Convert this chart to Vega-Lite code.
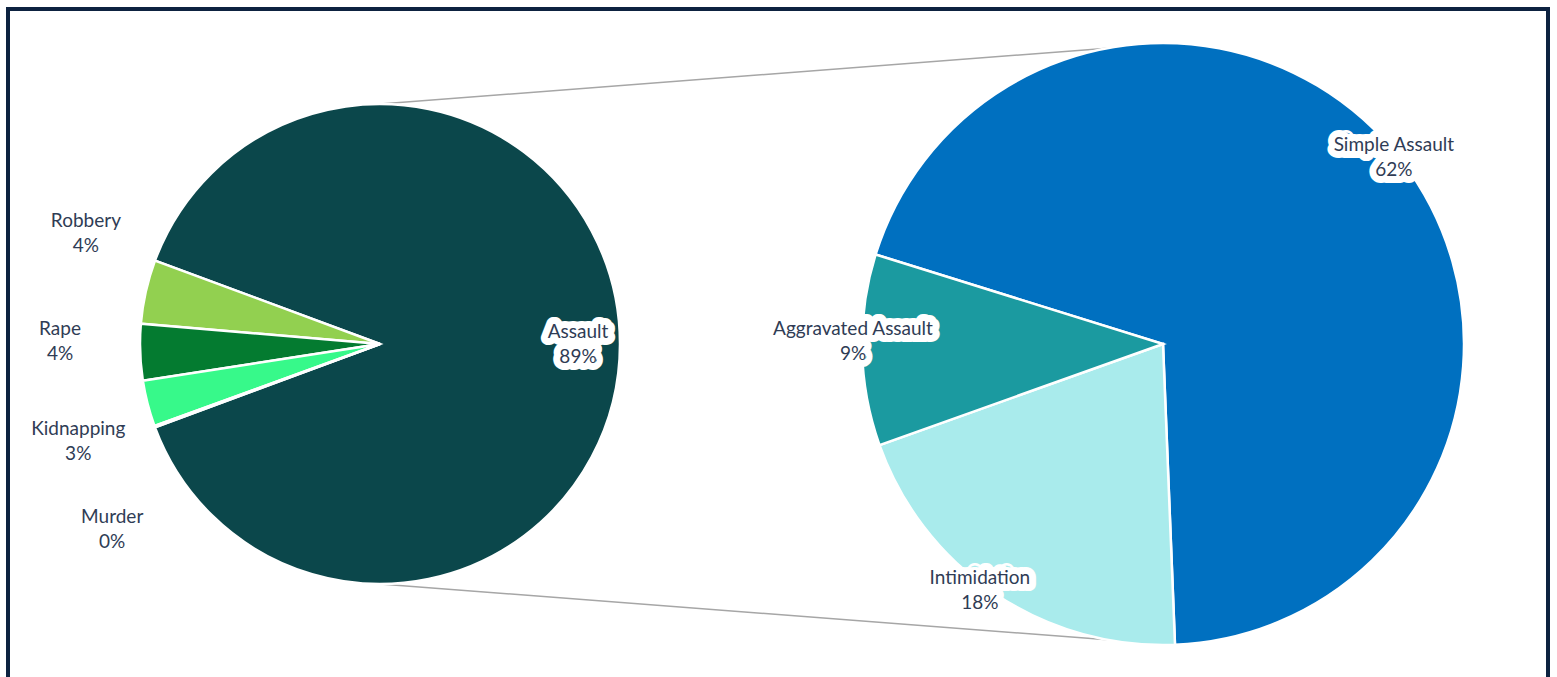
{
  "$schema": "https://vega.github.io/schema/vega-lite/v6.json",
  "width": 1557,
  "height": 677,
  "autosize": {"type": "fit", "contains": "padding"},
  "padding": {"left": 8, "top": 9, "right": 9, "bottom": -2},
  "background": "white",
  "config": {
    "view": {"stroke": "#0D2240", "strokeWidth": 4},
    "text": {"font": "Lato", "fontSize": 19, "fill": "#2F3C55", "align": "center", "baseline": "middle"}
  },
  "resolve": {"scale": {"theta": "independent", "y": "independent"}},
  "layer": [
    {
      "data": {"values": [
        {"pie": "main", "edge": "top"},
        {"pie": "detail", "edge": "top"},
        {"pie": "main", "edge": "bottom"},
        {"pie": "detail", "edge": "bottom"}
      ]},
      "resolve": {"scale": {"y": "independent"}},
      "layer": [
        {
          "transform": [{"filter": "datum.edge === 'top'"}],
          "mark": {"type": "line", "stroke": "#A6A6A6", "strokeWidth": 1.5},
          "encoding": {
            "x": {"field": "pie", "type": "nominal", "scale": {"domain": ["main", "detail"], "range": [372, 1155], "padding": 0}, "axis": null},
            "y": {"field": "pie", "type": "nominal", "scale": {"domain": ["main", "detail"], "range": [95, 35], "padding": 0}, "axis": null}
          }
        },
        {
          "transform": [{"filter": "datum.edge === 'bottom'"}],
          "mark": {"type": "line", "stroke": "#A6A6A6", "strokeWidth": 1.5},
          "encoding": {
            "x": {"field": "pie", "type": "nominal", "scale": {"domain": ["main", "detail"], "range": [372, 1155], "padding": 0}, "axis": null},
            "y": {"field": "pie", "type": "nominal", "scale": {"domain": ["main", "detail"], "range": [575, 635], "padding": 0}, "axis": null}
          }
        }
      ]
    },
    {
      "data": {"values": [
        {"pie": "main", "crime": "Assault", "share": 0.887},
        {"pie": "main", "crime": "Robbery", "share": 0.043},
        {"pie": "main", "crime": "Rape", "share": 0.038},
        {"pie": "main", "crime": "Kidnapping", "share": 0.031},
        {"pie": "main", "crime": "Murder", "share": 0.001}
      ]},
      "encoding": {
        "x": {"field": "pie", "type": "nominal", "scale": {"domain": ["main", "detail"], "range": [372, 1155], "padding": 0}, "axis": null},
        "theta": {"field": "share", "type": "quantitative", "stack": true, "scale": {"range": [4.3574, 10.6406]}},
        "order": {"field": "share", "type": "quantitative", "sort": "ascending"},
        "detail": {"field": "crime", "type": "nominal"}
      },
      "layer": [
        {
          "mark": {"type": "arc", "outerRadius": 240, "stroke": "white", "strokeWidth": 2.5},
          "encoding": {
            "color": {"field": "crime", "type": "nominal", "legend": null,
              "scale": {
                "domain": ["Assault", "Robbery", "Rape", "Kidnapping", "Murder", "Simple Assault", "Aggravated Assault", "Intimidation"],
                "range": ["#0B474B", "#92D050", "#047B30", "#37F98A", "#0B474B", "#0070C0", "#1B9AA0", "#A9EBEC"]
              }
            }
          }
        },
        {
          "mark": {"type": "text", "radius": 314, "thetaOffset": 0.138, "dy": -12.5},
          "encoding": {"text": {"condition": {"test": "datum.crime === 'Robbery'", "field": "crime", "type": "nominal"}, "value": ""}}
        },
        {
          "mark": {"type": "text", "radius": 314, "thetaOffset": 0.138, "dy": 12.5},
          "encoding": {"text": {"condition": {"test": "datum.crime === 'Robbery'", "field": "share", "type": "quantitative", "format": ".0%"}, "value": ""}}
        },
        {
          "mark": {"type": "text", "radius": 320, "thetaOffset": 0.042, "dy": -12.5},
          "encoding": {"text": {"condition": {"test": "datum.crime === 'Rape'", "field": "crime", "type": "nominal"}, "value": ""}}
        },
        {
          "mark": {"type": "text", "radius": 320, "thetaOffset": 0.042, "dy": 12.5},
          "encoding": {"text": {"condition": {"test": "datum.crime === 'Rape'", "field": "share", "type": "quantitative", "format": ".0%"}, "value": ""}}
        },
        {
          "mark": {"type": "text", "radius": 317, "thetaOffset": -0.06, "dy": -12.5},
          "encoding": {"text": {"condition": {"test": "datum.crime === 'Kidnapping'", "field": "crime", "type": "nominal"}, "value": ""}}
        },
        {
          "mark": {"type": "text", "radius": 317, "thetaOffset": -0.06, "dy": 12.5},
          "encoding": {"text": {"condition": {"test": "datum.crime === 'Kidnapping'", "field": "share", "type": "quantitative", "format": ".0%"}, "value": ""}}
        },
        {
          "mark": {"type": "text", "radius": 326, "thetaOffset": -0.255, "dy": -12.5},
          "encoding": {"text": {"condition": {"test": "datum.crime === 'Murder'", "field": "crime", "type": "nominal"}, "value": ""}}
        },
        {
          "mark": {"type": "text", "radius": 326, "thetaOffset": -0.255, "dy": 12.5},
          "encoding": {"text": {"condition": {"test": "datum.crime === 'Murder'", "field": "share", "type": "quantitative", "format": ".0%"}, "value": ""}}
        },
        {
          "mark": {"type": "text", "radius": 198, "dy": -12.5, "fill": "white", "stroke": "white", "strokeWidth": 14, "strokeJoin": "round"},
          "encoding": {"text": {"condition": {"test": "datum.crime === 'Assault'", "field": "crime", "type": "nominal"}, "value": ""}}
        },
        {
          "mark": {"type": "text", "radius": 198, "dy": 12.5, "fill": "white", "stroke": "white", "strokeWidth": 14, "strokeJoin": "round"},
          "encoding": {"text": {"condition": {"test": "datum.crime === 'Assault'", "field": "share", "type": "quantitative", "format": ".0%"}, "value": ""}}
        },
        {
          "mark": {"type": "text", "radius": 198, "dy": -12.5},
          "encoding": {"text": {"condition": {"test": "datum.crime === 'Assault'", "field": "crime", "type": "nominal"}, "value": ""}}
        },
        {
          "mark": {"type": "text", "radius": 198, "dy": 12.5},
          "encoding": {"text": {"condition": {"test": "datum.crime === 'Assault'", "field": "share", "type": "quantitative", "format": ".0%"}, "value": ""}}
        }
      ]
    },
    {
      "data": {"values": [
        {"pie": "detail", "crime": "Simple Assault", "share": 0.617},
        {"pie": "detail", "crime": "Intimidation", "share": 0.179},
        {"pie": "detail", "crime": "Aggravated Assault", "share": 0.091}
      ]},
      "encoding": {
        "x": {"field": "pie", "type": "nominal", "scale": {"domain": ["main", "detail"], "range": [372, 1155], "padding": 0}, "axis": null},
        "theta": {"field": "share", "type": "quantitative", "stack": true, "scale": {"range": [5.0143, 11.2975]}},
        "order": {"field": "share", "type": "quantitative", "sort": "descending"},
        "detail": {"field": "crime", "type": "nominal"}
      },
      "layer": [
        {
          "mark": {"type": "arc", "outerRadius": 301, "stroke": "white", "strokeWidth": 2.5},
          "encoding": {
            "color": {"field": "crime", "type": "nominal", "legend": null,
              "scale": {
                "domain": ["Assault", "Robbery", "Rape", "Kidnapping", "Murder", "Simple Assault", "Aggravated Assault", "Intimidation"],
                "range": ["#0B474B", "#92D050", "#047B30", "#37F98A", "#0B474B", "#0070C0", "#1B9AA0", "#A9EBEC"]
              }
            }
          }
        },
        {
          "mark": {"type": "text", "radius": 297, "thetaOffset": -0.026, "dy": -12.5, "fill": "white", "stroke": "white", "strokeWidth": 14, "strokeJoin": "round"},
          "encoding": {"text": {"condition": {"test": "datum.crime === 'Simple Assault'", "field": "crime", "type": "nominal"}, "value": ""}}
        },
        {
          "mark": {"type": "text", "radius": 297, "thetaOffset": -0.026, "dy": 12.5, "fill": "white", "stroke": "white", "strokeWidth": 14, "strokeJoin": "round"},
          "encoding": {"text": {"condition": {"test": "datum.crime === 'Simple Assault'", "field": "share", "type": "quantitative", "format": ".0%"}, "value": ""}}
        },
        {
          "mark": {"type": "text", "radius": 297, "thetaOffset": -0.026, "dy": -12.5},
          "encoding": {"text": {"condition": {"test": "datum.crime === 'Simple Assault'", "field": "crime", "type": "nominal"}, "value": ""}}
        },
        {
          "mark": {"type": "text", "radius": 297, "thetaOffset": -0.026, "dy": 12.5},
          "encoding": {"text": {"condition": {"test": "datum.crime === 'Simple Assault'", "field": "share", "type": "quantitative", "format": ".0%"}, "value": ""}}
        },
        {
          "mark": {"type": "text", "radius": 307, "thetaOffset": 0.045, "dy": -12.5, "fill": "white", "stroke": "white", "strokeWidth": 14, "strokeJoin": "round"},
          "encoding": {"text": {"condition": {"test": "datum.crime === 'Intimidation'", "field": "crime", "type": "nominal"}, "value": ""}}
        },
        {
          "mark": {"type": "text", "radius": 307, "thetaOffset": 0.045, "dy": 12.5, "fill": "white", "stroke": "white", "strokeWidth": 14, "strokeJoin": "round"},
          "encoding": {"text": {"condition": {"test": "datum.crime === 'Intimidation'", "field": "share", "type": "quantitative", "format": ".0%"}, "value": ""}}
        },
        {
          "mark": {"type": "text", "radius": 307, "thetaOffset": 0.045, "dy": -12.5},
          "encoding": {"text": {"condition": {"test": "datum.crime === 'Intimidation'", "field": "crime", "type": "nominal"}, "value": ""}}
        },
        {
          "mark": {"type": "text", "radius": 307, "thetaOffset": 0.045, "dy": 12.5},
          "encoding": {"text": {"condition": {"test": "datum.crime === 'Intimidation'", "field": "share", "type": "quantitative", "format": ".0%"}, "value": ""}}
        },
        {
          "mark": {"type": "text", "radius": 310, "thetaOffset": 0.027, "dy": -12.5, "fill": "white", "stroke": "white", "strokeWidth": 14, "strokeJoin": "round"},
          "encoding": {"text": {"condition": {"test": "datum.crime === 'Aggravated Assault'", "field": "crime", "type": "nominal"}, "value": ""}}
        },
        {
          "mark": {"type": "text", "radius": 310, "thetaOffset": 0.027, "dy": 12.5, "fill": "white", "stroke": "white", "strokeWidth": 14, "strokeJoin": "round"},
          "encoding": {"text": {"condition": {"test": "datum.crime === 'Aggravated Assault'", "field": "share", "type": "quantitative", "format": ".0%"}, "value": ""}}
        },
        {
          "mark": {"type": "text", "radius": 310, "thetaOffset": 0.027, "dy": -12.5},
          "encoding": {"text": {"condition": {"test": "datum.crime === 'Aggravated Assault'", "field": "crime", "type": "nominal"}, "value": ""}}
        },
        {
          "mark": {"type": "text", "radius": 310, "thetaOffset": 0.027, "dy": 12.5},
          "encoding": {"text": {"condition": {"test": "datum.crime === 'Aggravated Assault'", "field": "share", "type": "quantitative", "format": ".0%"}, "value": ""}}
        }
      ]
    }
  ]
}
